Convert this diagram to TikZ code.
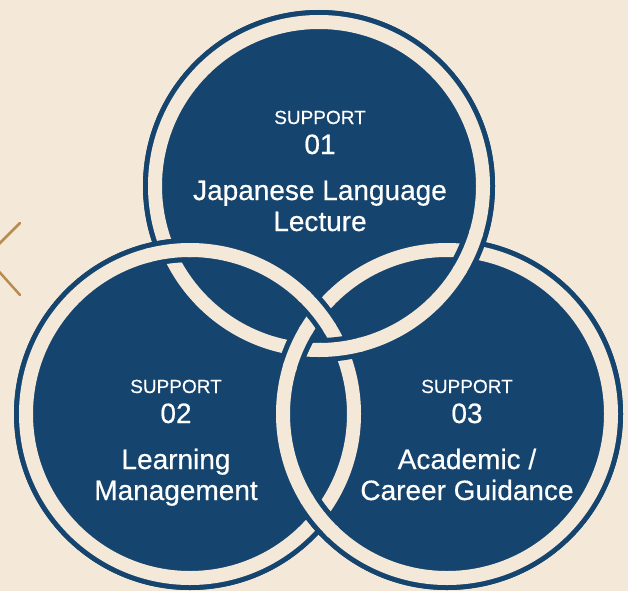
\documentclass[tikz,border=0pt]{standalone}
\usepackage{fontspec}
\setmainfont{Liberation Sans}[FakeBold=0.5]
\definecolor{navy}{HTML}{15456F}
\definecolor{cream}{HTML}{F4E9D8}
\definecolor{gold}{HTML}{B98B4F}
\tikzset{
    disk/.style={fill=navy},
    ringedge/.style={draw=navy, line width=24pt},
    ringband/.style={draw=cream, line width=14pt},
    tag/.style={text=white, font=\fontsize{19}{19}\selectfont, anchor=base},
    big/.style={text=white, font=\fontsize{28}{28}\selectfont, anchor=base},
}
\newcommand{\ringat}[1]{%
    \path[ringedge] (#1) circle (164pt);
    \path[ringband] (#1) circle (164pt);
}
\begin{document}
\begin{tikzpicture}[x=1pt, y=-1pt]
    \useasboundingbox (0, 0) rectangle (628, 591);
    \fill[cream] (0, 0) rectangle (628, 591);
    \draw[gold, line width=2.5pt, line cap=round] (20, 223) -- (-14, 257) -- (20, 295);

    \coordinate (ct) at (319, 186);
    \coordinate (cl) at (190, 414);
    \coordinate (cr) at (447, 414);

    \foreach \c in {ct, cl, cr}
        \fill[disk] (\c) circle (176pt);
    \foreach \c in {ct, cl, cr}
        {\ringat{\c}}

    % over/under at each crossing
    \foreach \over/\px/\py in {cl/169/251, ct/340/349, cr/297/348, ct/469/252, cl/318/312, cr/318/516}
    {
        \begin{scope}
            \clip (\px, \py) circle (20pt);
            \path[ringedge] (\over) circle (164pt);
        \end{scope}
        \begin{scope}
            \clip (\px, \py) circle (23pt);
            \path[ringband] (\over) circle (164pt);
        \end{scope}
    }

    \foreach \name/\tx/\ty/\num/\lineA/\lineB in {t/320/0/01/Japanese Language/Lecture, l/176/269/02/Learning/Management, r/467/269/03/{Academic /}/Career Guidance}
    {
        \node[tag] (\name-tag) at (\tx, 124+\ty) {SUPPORT};
        \node[big] (\name-num) at (\tx, 154+\ty) {\num};
        \node[big] (\name-a) at (\tx, 200+\ty) {\lineA};
        \node[big] (\name-b) at (\tx, 231+\ty) {\lineB};
    }
\end{tikzpicture}
\end{document}
